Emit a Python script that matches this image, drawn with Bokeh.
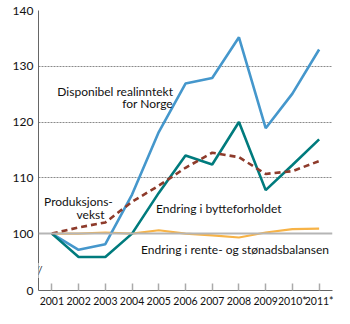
from bokeh.plotting import figure
from bokeh.models import Label, Span, FixedTicker, Range1d
from bokeh.embed import file_html
from bokeh.resources import INLINE

years = [2001, 2002, 2003, 2004, 2005, 2006, 2007, 2008, 2009, 2010, 2011]
year_labels = ["2001", "2002", "2003", "2004", "2005", "2006", "2007", "2008", "2009", "2010*", "2011*"]
disponibel = [100, 97.1, 98.1, 107.0, 118.2, 126.9, 127.9, 135.2, 118.9, 125.1, 133.0]
bytteforhold = [100, 95.8, 95.8, 100.0, 107.3, 114.0, 112.4, 120.0, 107.8, 112.3, 116.9]
produksjon = [100, 101.1, 102.0, 105.7, 108.6, 111.8, 114.5, 113.7, 110.7, 111.2, 113.0]
rente_stonad = [100, 100, 100.2, 100.0, 100.6, 100.0, 99.7, 99.3, 100.2, 100.8, 100.9]
y_ticks = [89.8, 100, 110, 120, 130, 140]
y_tick_labels = ["0", "100", "110", "120", "130", "140"]

FONT = "Lato"

p = figure(width=350, height=324, output_backend="svg", toolbar_location=None,
           x_range=Range1d(2000.5, 2011.5), y_range=Range1d(89.8, 140),
           min_border_left=38, min_border_right=18, min_border_top=10, min_border_bottom=34)
p.outline_line_color = None
p.background_fill_color = "white"

# grid
p.xgrid.visible = False
p.ygrid.ticker = FixedTicker(ticks=[110, 120, 130, 140])
p.ygrid.grid_line_color = "#8a8a8a"
p.ygrid.grid_line_dash = "2 1"
p.ygrid.grid_line_width = 1
p.add_layout(Span(location=100, dimension="width", line_color="#b5b5b5", line_width=2))

# axes
p.xaxis.ticker = FixedTicker(ticks=years)
p.xaxis.major_label_overrides = {y: l for y, l in zip(years, year_labels)}
p.xaxis.major_tick_in = 7
p.xaxis.major_tick_out = 0
p.xaxis.minor_tick_line_color = None
p.xaxis.major_tick_line_color = "#aaaaaa"
p.xaxis.major_tick_line_width = 1.5
p.xaxis.axis_line_color = "#666666"
p.xaxis.major_label_text_font = FONT
p.xaxis.major_label_text_font_size = "10.5px"
p.xaxis.major_label_text_color = "#111111"
p.xaxis.major_label_standoff = 4

p.yaxis.ticker = FixedTicker(ticks=y_ticks)
p.yaxis.major_label_overrides = {t: l for t, l in zip(y_ticks, y_tick_labels)}
p.yaxis.major_tick_in = 0
p.yaxis.major_tick_out = 0
p.yaxis.minor_tick_line_color = None
p.yaxis.axis_line_color = "#666666"
p.yaxis.major_label_text_font = FONT
p.yaxis.major_label_text_font_size = "12px"
p.yaxis.major_label_text_color = "#111111"
p.yaxis.major_label_standoff = 5

# lines
p.line(years, rente_stonad, line_color="#f7b347", line_width=2.2)
p.line(years, disponibel, line_color="#4597cc", line_width=2.6)
p.line(years, bytteforhold, line_color="#007b7d", line_width=2.6)
p.line(years, produksjon, line_color="#8e3b2b", line_width=2.6, line_dash="6 4")

def lab(x, y, t, align):
    p.add_layout(Label(x=x, y=y, text=t, text_align=align, text_baseline="middle",
                       text_font=FONT, text_font_size="12px", text_color="#111111"))

lab(2005.53, 125.56, "Disponibel realinntekt", "right")
lab(2005.53, 123.3, "for Norge", "right")
lab(2003.28, 105.73, "Produksjons-", "right")
lab(2002.97, 103.5, "vekst", "right")
lab(2004.9, 104.48, "Endring i bytteforholdet", "left")
lab(2011.37, 97.24, "Endring i rente- og stønadsbalansen", "right")

# axis break mark
p.add_layout(Label(x=2000.5, y=93.4, text="//", text_align="center", text_baseline="middle",
                   text_font=FONT, text_font_size="12px", text_color="#333333",
                   background_fill_color="white"))

open("out.html", "w").write(file_html(p, INLINE))
